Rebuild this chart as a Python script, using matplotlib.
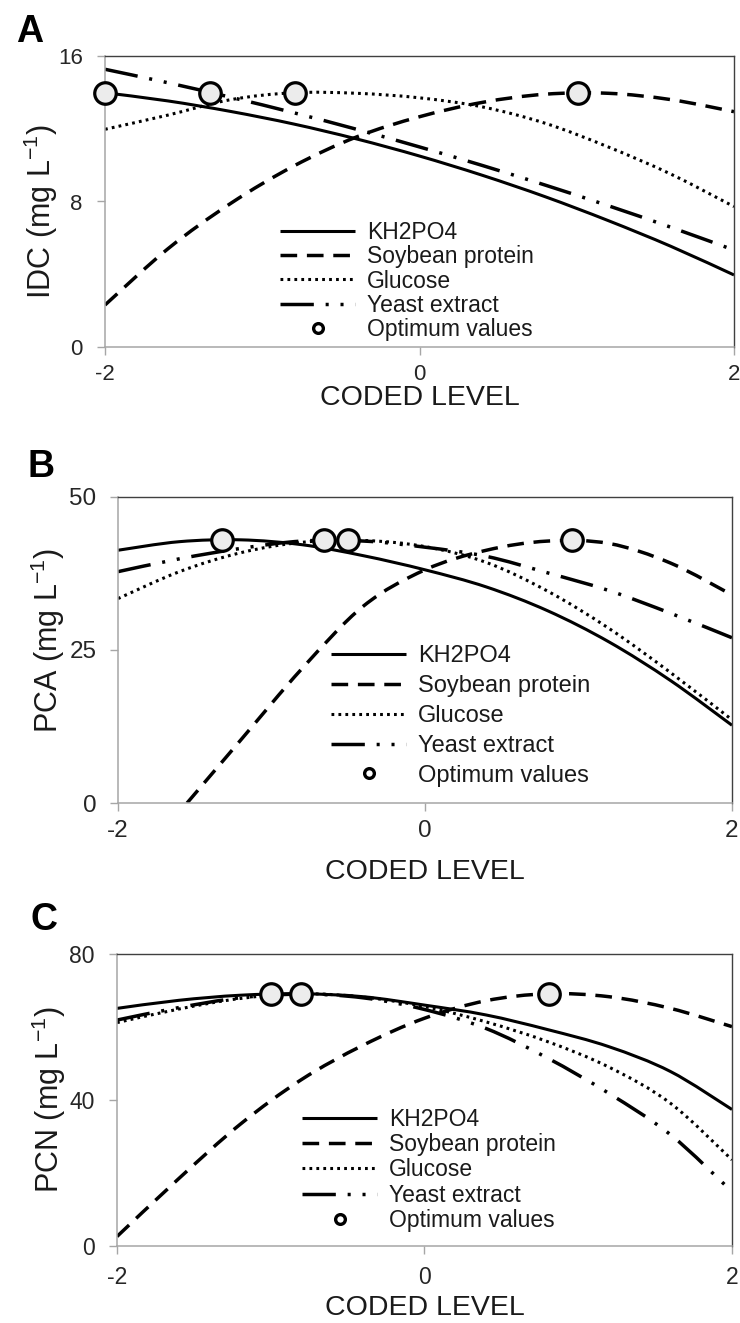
import matplotlib
matplotlib.use('Agg')
import matplotlib.pyplot as plt
from matplotlib.lines import Line2D
from matplotlib.path import Path
from matplotlib.patches import PathPatch

plt.rcParams['font.family'] = ['Liberation Sans', 'DejaVu Sans']
plt.rcParams['mathtext.fontset'] = 'custom'
plt.rcParams['mathtext.rm'] = 'Liberation Sans'
plt.rcParams['mathtext.default'] = 'regular'
plt.rcParams['lines.scale_dashes'] = False

# ---------------- data ----------------
coded_level = [-2.0, -1.6, -1.2, -0.8, -0.4, 0.0, 0.4, 0.8, 1.2, 1.6, 2.0]
factor_names = ['KH2PO4', 'Soybean protein', 'Glucose', 'Yeast extract']
optimum_label = 'Optimum values'
x_ticks = [-2, 0, 2]

# Panel A : IDC
idc_kh2po4 = [13.98, 13.53, 12.95, 12.26, 11.44, 10.5, 9.44, 8.26, 6.95, 5.53, 3.96]
idc_soybean = [2.31, 5.4, 7.9, 9.95, 11.55, 12.66, 13.45, 13.9, 13.95, 13.6, 12.94]
idc_glucose = [11.97, 12.75, 13.6, 13.98, 13.95, 13.7, 13.2, 12.3, 11.0, 9.5, 7.72]
idc_yeast = [15.27, 14.53, 13.73, 12.88, 11.97, 11.0, 9.98, 8.9, 7.77, 6.58, 5.33]
idc_opt_x = [-2.0, -1.33, -0.79, 1.01]
idc_opt_y = [13.98, 13.98, 13.98, 13.98]
idc_yticks = [0, 8, 16]

# Panel B : PCA
pca_kh2po4 = [41.3, 42.7, 43.0, 42.2, 40.4, 38.1, 35.3, 31.4, 26.3, 20.0, 12.7]
pca_soybean_x = [-1.55, -1.2, -0.8, -0.4, 0.0, 0.4, 0.8, 1.2, 1.6, 2.0]
pca_soybean = [0.0, 10.3, 22.0, 32.2, 38.1, 41.3, 42.8, 42.4, 39.2, 34.0]
pca_glucose = [33.4, 37.8, 40.9, 42.6, 42.9, 41.9, 39.3, 34.6, 28.5, 21.3, 13.6]
pca_yeast = [37.8, 39.9, 41.6, 42.8, 42.8, 41.8, 40.3, 37.6, 34.7, 31.0, 27.0]
pca_opt_x = [-1.32, -0.655, -0.5, 0.955]
pca_opt_y = [43.0, 43.0, 43.0, 43.0]
pca_yticks = [0, 25, 50]

# Panel C : PCN
pcn_kh2po4 = [65.1, 67.3, 68.7, 69.1, 68.3, 66.0, 63.3, 59.3, 54.6, 47.8, 37.4]
pcn_soybean = [2.6, 18.4, 33.3, 45.6, 55.0, 62.4, 67.2, 69.1, 68.3, 65.1, 60.1]
pcn_glucose = [61.2, 64.9, 67.8, 69.1, 68.2, 65.6, 61.4, 56.0, 49.0, 39.1, 23.6]
pcn_yeast = [61.9, 65.3, 68.0, 69.0, 68.0, 64.8, 59.6, 51.5, 41.8, 30.5, 14.9]
pcn_opt_x = [-1.0, -0.8, 0.81]
pcn_opt_y = [69.1, 69.1, 69.1]
pcn_yticks = [0, 40, 80]

# ---------------- styles ----------------
styles = [
    dict(color='black', lw=2.2, linestyle='-'),
    dict(color='black', lw=2.5, linestyle=(0, (12, 7))),
    dict(color='black', lw=2.2, linestyle=(0, (2.0, 3.0))),
    dict(color='black', lw=2.5, linestyle=(0, (24, 8.5, 2.2, 8.5, 2.2, 8.5))),
]


def smooth_path(xs, ys):
    """Excel-like smoothed line: cubic Bezier segments through the data points."""
    n = len(xs)
    verts = [(xs[0], ys[0])]
    codes = [Path.MOVETO]
    for i in range(n - 1):
        x0, y0 = xs[max(i - 1, 0)], ys[max(i - 1, 0)]
        x1, y1 = xs[i], ys[i]
        x2, y2 = xs[i + 1], ys[i + 1]
        x3, y3 = xs[min(i + 2, n - 1)], ys[min(i + 2, n - 1)]
        c1 = (x1 + (x2 - x0) / 6.0, y1 + (y2 - y0) / 6.0)
        c2 = (x2 - (x3 - x1) / 6.0, y2 - (y3 - y1) / 6.0)
        verts += [c1, c2, (x2, y2)]
        codes += [Path.CURVE4] * 3
    return Path(verts, codes)


fig = plt.figure(figsize=(7.4, 13.23), dpi=100)
W, H = 740.0, 1323.0


def axes_px(left, right, top, bottom):
    return fig.add_axes([left / W, 1 - bottom / H, (right - left) / W, (bottom - top) / H])


panels = [
    dict(box=(105, 734, 56, 347), letter='A', letter_xy=(16, 42),
         ylabel='IDC (mg L$^{-1}$)', ylim=(0, 16), yticks=idc_yticks,
         series=[(coded_level, idc_kh2po4), (coded_level, idc_soybean),
                 (coded_level, idc_glucose), (coded_level, idc_yeast)],
         opt=(idc_opt_x, idc_opt_y), tick_fs=16, leg_fs=16.5,
         leg_anchor=(280, 281), leg_spacing=0.06, ylabel_xy=(41, 212),
         xlabel_y=398, xpad=6.5, ypad=10),
    dict(box=(118, 732, 497, 803), letter='B', letter_xy=(28, 477),
         ylabel='PCA (mg L$^{-1}$)', ylim=(0, 50), yticks=pca_yticks,
         series=[(coded_level, pca_kh2po4), (pca_soybean_x, pca_soybean),
                 (coded_level, pca_glucose), (coded_level, pca_yeast)],
         opt=(pca_opt_x, pca_opt_y), tick_fs=17.5, leg_fs=17,
         leg_anchor=(331, 716), leg_spacing=0.33, ylabel_xy=(48, 640),
         xlabel_y=872, xpad=6.5, ypad=9.5),
    dict(box=(117, 732, 954, 1246), letter='C', letter_xy=(31, 930),
         ylabel='PCN (mg L$^{-1}$)', ylim=(0, 80), yticks=pcn_yticks,
         series=[(coded_level, pcn_kh2po4), (coded_level, pcn_soybean),
                 (coded_level, pcn_glucose), (coded_level, pcn_yeast)],
         opt=(pcn_opt_x, pcn_opt_y), tick_fs=16.5, leg_fs=16.5,
         leg_anchor=(302, 1170), leg_spacing=0.1, ylabel_xy=(49, 1100),
         xlabel_y=1308, xpad=8.5, ypad=10),
]

for p in panels:
    l, r, t, b = p['box']
    ax = axes_px(l, r, t, b)
    for (xs, ys), st in zip(p['series'], styles):
        patch = PathPatch(smooth_path(xs, ys), fill=False, edgecolor=st['color'],
                          linewidth=st['lw'], linestyle=st['linestyle'],
                          capstyle='butt', joinstyle='round', zorder=2)
        ax.add_patch(patch)
    ax.plot(p['opt'][0], p['opt'][1], linestyle='none', marker='o', markersize=15.5,
            markerfacecolor='#ececec', markeredgecolor='black', markeredgewidth=2.3,
            zorder=5, clip_on=False)
    ax.set_xlim(-2, 2)
    ax.set_ylim(*p['ylim'])
    ax.set_xticks(x_ticks)
    ax.set_yticks(p['yticks'])
    ax.set_xticklabels([str(v) for v in x_ticks])
    ax.set_yticklabels([str(v) for v in p['yticks']])
    for s in ['left', 'bottom']:
        ax.spines[s].set_color('#a6a6a6')
        ax.spines[s].set_linewidth(1.1)
    for s in ['top', 'right']:
        ax.spines[s].set_color('#404040')
        ax.spines[s].set_linewidth(1.0)
    ax.tick_params(axis='both', direction='out', length=6, width=1.0, color='#a6a6a6',
                   labelsize=p['tick_fs'], labelcolor='#262626')
    ax.tick_params(axis='x', pad=p['xpad'])
    ax.tick_params(axis='y', pad=p['ypad'])

    ax.set_xlabel('CODED LEVEL', fontsize=20.5, color='#1a1a1a')
    ax.xaxis.label.set_va('center')
    ax.xaxis.set_label_coords(0.5, (b - p['xlabel_y']) / (b - t))
    ax.set_ylabel(p['ylabel'], fontsize=22, color='#1a1a1a')
    ax.yaxis.label.set_va('center')
    ax.yaxis.set_label_coords((p['ylabel_xy'][0] - l) / (r - l), (b - p['ylabel_xy'][1]) / (b - t))

    handles = [Line2D([], [], solid_capstyle='butt', dash_capstyle='butt', **st) for st in styles]
    handles.append(Line2D([], [], linestyle='none', marker='o', markersize=7,
                          markerfacecolor='white', markeredgecolor='black', markeredgewidth=2.4))
    fs = p['leg_fs']
    hl_pts = 54.0
    ax.legend(handles, factor_names + [optimum_label], loc='center left',
              bbox_to_anchor=((p['leg_anchor'][0] - l) / (r - l), (b - p['leg_anchor'][1]) / (b - t)),
              frameon=False, fontsize=fs, handlelength=hl_pts / fs, handletextpad=8.5 / fs,
              labelspacing=p['leg_spacing'], borderpad=0, borderaxespad=0, handleheight=0.7,
              labelcolor='#1a1a1a')

    fig.text(p['letter_xy'][0] / W, 1 - p['letter_xy'][1] / H, p['letter'], fontsize=27,
             fontweight='bold', va='baseline', ha='left', color='black')

fig.savefig('out.png', dpi=100)
